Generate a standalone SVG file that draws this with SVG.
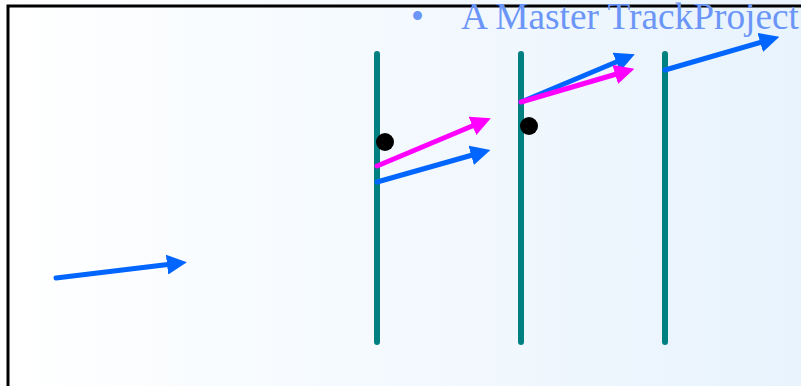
<svg xmlns="http://www.w3.org/2000/svg" width="801" height="386" viewBox="0 0 801 386">
<defs>
<linearGradient id="bg" x1="0" y1="0" x2="1" y2="0">
<stop offset="0" stop-color="#ffffff"/>
<stop offset="1" stop-color="#e8f3fd"/>
</linearGradient>
<marker id="hb" markerWidth="4" markerHeight="4" refX="1" refY="2" orient="auto" markerUnits="strokeWidth"><path d="M0,0 L4,2 L0,4 Z" fill="#0066ff"/></marker>
<marker id="hm" markerWidth="4" markerHeight="4" refX="1" refY="2" orient="auto" markerUnits="strokeWidth"><path d="M0,0 L4,2 L0,4 Z" fill="#ff00ff"/></marker>
<style>
.wall{stroke:#008080;stroke-width:6;stroke-linecap:round}
.b{stroke:#0066ff;stroke-width:5;stroke-linecap:round;fill:none;marker-end:url(#hb)}
.m{stroke:#ff00ff;stroke-width:5;stroke-linecap:round;fill:none;marker-end:url(#hm)}
.t{font-family:"Liberation Serif",serif;font-size:37px;fill:#6b96f7}
</style>
</defs>
<rect x="0" y="0" width="801" height="386" fill="url(#bg)"/>
<path d="M8,386 V6 H801" fill="none" stroke="#000" stroke-width="3"/>
<g id="title">
<text class="t" x="411" y="29">•</text>
<text class="t" x="461" y="29" textLength="338" lengthAdjust="spacingAndGlyphs">A Master TrackProject</text>
</g>
<g id="walls">
<line id="wall1" class="wall" x1="377" y1="54" x2="377" y2="342"/>
<line id="wall2" class="wall" x1="521" y1="54" x2="521" y2="342"/>
<line id="wall3" class="wall" x1="665" y1="54" x2="665" y2="342"/>
</g>
<g id="dots">
<circle id="dot1" cx="385" cy="142" r="9" fill="#000"/>
<circle id="dot2" cx="529" cy="126" r="9" fill="#000"/>
</g>
<g id="connectors">
<line class="b" x1="56" y1="278" x2="172" y2="264"/>
<line class="b" x1="377" y1="182" x2="476" y2="154"/>
<line class="m" x1="377" y1="166" x2="477" y2="124"/>
<line class="b" x1="521" y1="102" x2="621" y2="60"/>
<line class="m" x1="521" y1="102" x2="620" y2="73"/>
<line class="b" x1="665" y1="70" x2="765" y2="41"/>
</g>
</svg>
